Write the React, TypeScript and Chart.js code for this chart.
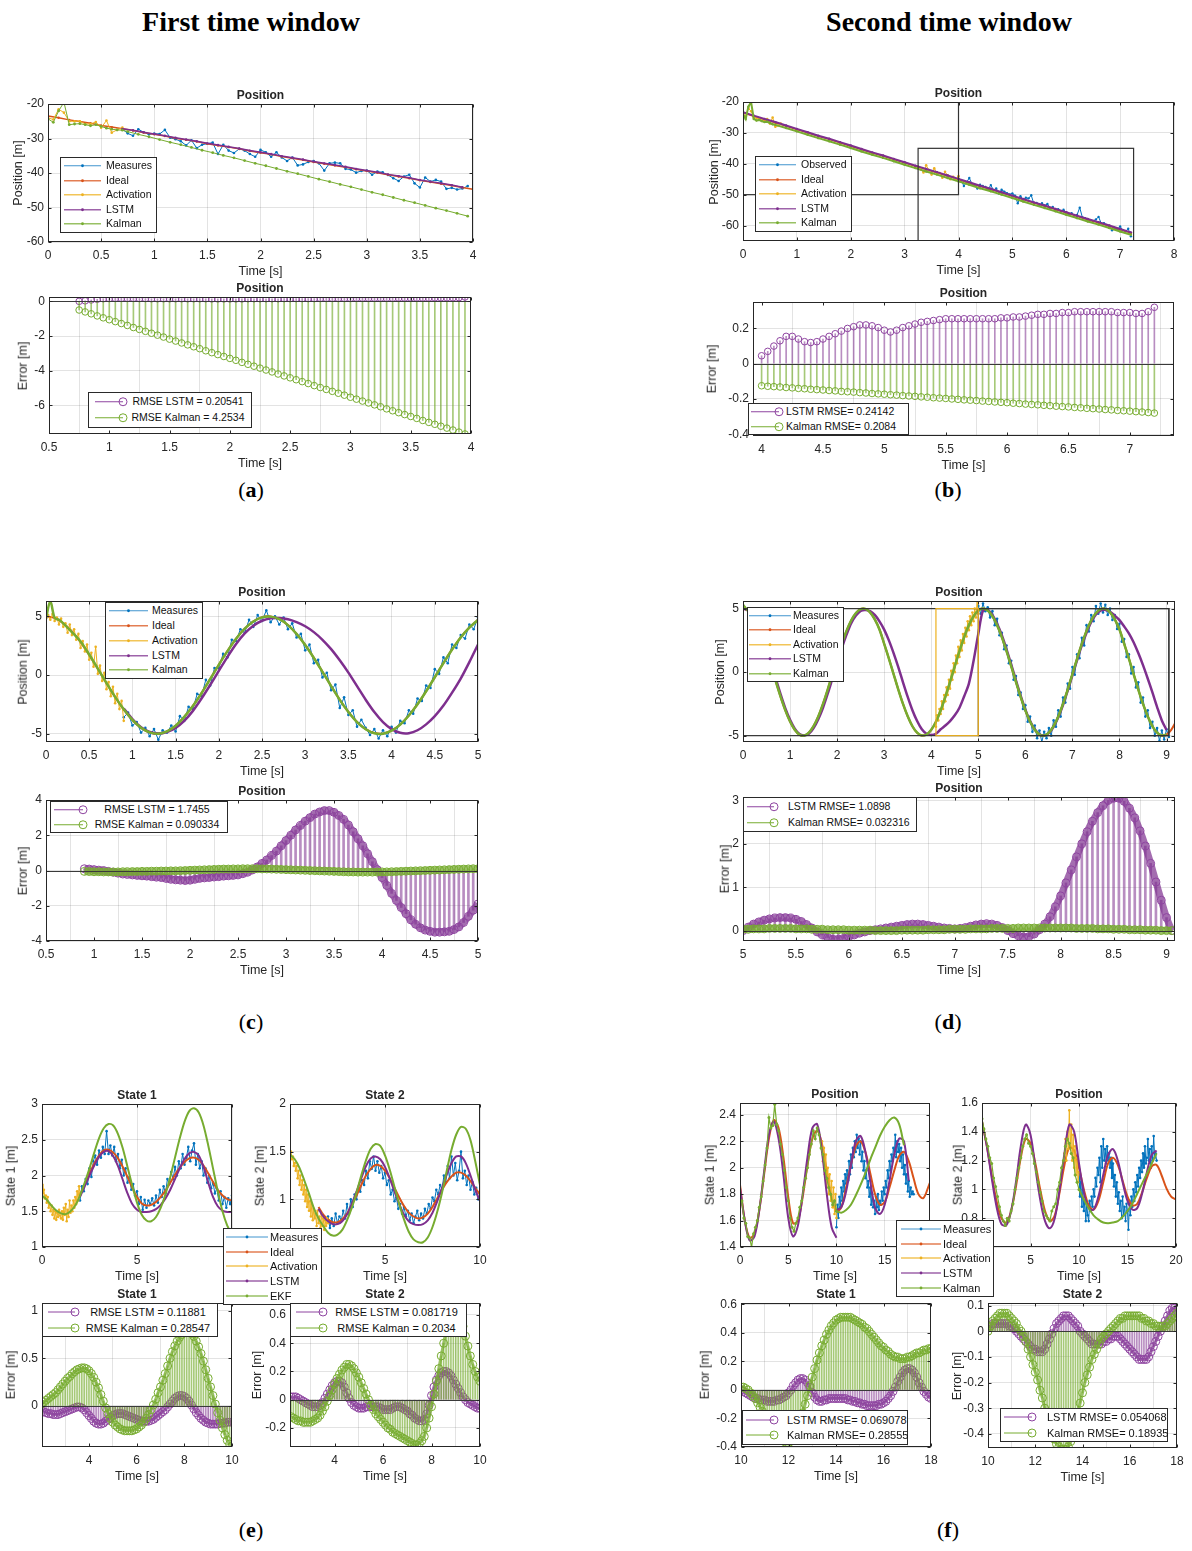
import React, { useEffect, useRef } from "react";
import { Chart, registerables } from "chart.js";
Chart.register(...registerables);

const FONT = '"Liberation Sans", Arial, Helvetica, sans-serif';
const SERIF = '"Liberation Serif", "Times New Roman", serif';
const BLUE = "#0072BD", RED = "#D95319", YEL = "#EDB120", PUR = "#7E2F8E", GRN = "#77AC30";
const PUR_M = "#8E44A0", PUR_S = "rgba(126,47,142,0.55)", GRN_S = "rgba(119,172,48,0.65)";
const PUR_B = "rgba(126,47,142,0.7)", GRN_B = "rgba(119,172,48,0.75)";
const GRID = "rgba(38,38,38,0.13)";

type Pt = { x: number; y: number };
const seq = (t0: number, dt: number, v: number[]): Pt[] =>
  v.map((y, i) => ({ x: Math.round((t0 + i * dt) * 1e4) / 1e4, y }));

// ---------------- (a) ----------------
const aT_meas = [-27.3, -28.5, -29.2, -27.3, -28.2, -28.8,
  -28.6, -28.7, -27.5, -29.8, -30.2, -30.8, -32.0, -30.5, -32.8, -31.8,
  -31.5, -31.2, -34.5, -31.8, -33.5, -34.2, -33.0, -33.5, -34.5, -35.3,
  -33.3, -34.0, -35.3, -34.0, -35.5, -36.5, -35.5, -37.8, -37.5, -36.8,
  -36.5, -37.2, -39.3, -37.2, -37.0, -37.2, -38.8, -39.0, -39.9, -39.4,
  -39.3, -40.5, -39.6, -39.8, -40.6, -41.5, -42.3, -41.0, -40.5, -43.0,
  -44.2, -41.3, -42.5, -42.0, -42.5, -44.6, -44.3, -44.8, -44.5, -43.8];
const aT_ideal = [-23.5, -24.0, -24.6, -25.1, -25.6, -26.2, -26.7, -27.2, -27.7, -28.3, -28.8, -29.3, -29.9, -30.4,
  -30.9, -31.5, -32.0, -32.5, -33.0, -33.6, -34.1, -34.6, -35.2, -35.7, -36.2, -36.8, -37.3, -37.8, -38.3, -38.9,
  -39.4, -39.9, -40.5, -41.0, -41.5, -42.1, -42.6, -43.1, -43.6, -44.2, -44.7];
const aT_act = [-24.0, -24.5, -21.5, -22.5, -25.0, -25.0, -25.0, -25.8, -25.8, -25.2, -26.9, -24.8, -28.3, -27.5, -26.8];
const aT_lstm = [-27.2, -27.6, -28.2, -28.7, -29.2, -29.8, -30.3, -30.8, -31.4, -31.9, -32.4, -32.9, -33.5, -34.0,
  -34.5, -35.1, -35.6, -36.1, -36.7, -37.2, -37.7, -38.2, -38.8, -39.3, -39.8, -40.4, -40.9, -41.4, -42.0, -42.5,
  -43.0, -43.5, -44.1];
const aT_kal1 = [-24.3, -25.3, -22.0, -19.5, -26.0, -25.8, -25.7, -26.0, -26.3, -26.0, -26.5, -27.0, -27.3, -27.5, -27.6];
const aT_kal2 = [-28.0, -28.8, -29.5, -30.3, -31.1, -31.8, -32.6, -33.4, -34.1, -34.9, -35.6, -36.4, -37.2, -37.9,
  -38.7, -39.5, -40.2, -41.0, -41.8, -42.5, -43.3, -44.0, -44.8, -45.6, -46.3, -47.1, -47.9, -48.6, -49.4, -50.2,
  -50.9, -51.7, -52.5];
const aB_lstm = [0.0, 0.03, 0.08, 0.12, 0.15, 0.16, 0.17, 0.17, 0.17, 0.17,
  0.16, 0.16, 0.15, 0.15, 0.15, 0.15, 0.15, 0.15, 0.15, 0.15,
  0.15, 0.15, 0.14, 0.14, 0.14, 0.14, 0.14, 0.14, 0.15, 0.15,
  0.15, 0.15, 0.15, 0.15, 0.16, 0.16, 0.16, 0.16, 0.16, 0.16,
  0.17, 0.17, 0.17, 0.17, 0.17, 0.17, 0.18, 0.18, 0.18, 0.18,
  0.18, 0.18, 0.18, 0.19, 0.19, 0.19, 0.19, 0.19, 0.19, 0.2,
  0.2, 0.2, 0.2, 0.21, 0.25];
const aB_kal = [-0.50, -0.61, -0.72, -0.84, -0.95, -1.06, -1.17, -1.28, -1.39, -1.51,
  -1.62, -1.73, -1.84, -1.95, -2.06, -2.18, -2.29, -2.40, -2.51, -2.62,
  -2.73, -2.85, -2.96, -3.07, -3.18, -3.29, -3.40, -3.52, -3.63, -3.74,
  -3.85, -3.96, -4.07, -4.19, -4.30, -4.41, -4.52, -4.63, -4.74, -4.86,
  -4.97, -5.08, -5.19, -5.30, -5.41, -5.53, -5.64, -5.75, -5.86, -5.97,
  -6.08, -6.20, -6.31, -6.42, -6.53, -6.64, -6.75, -6.87, -6.98, -7.09,
  -7.20, -7.31, -7.42, -7.54, -7.65];

// ---------------- (b) ----------------
const bT_obs = [-44.8, -45.3, -47.2, -46.0, -44.6, -46.5, -47.0, -48.0, -46.8, -47.2, -47.5, -48.2, -46.9, -48.6, -48.0, -49.6, -48.4, -49.0, -49.5, -49.9,
  -49.6, -50.3, -52.8, -50.5, -51.6, -51.0, -51.2, -50.2, -53.0, -52.7, -53.5, -52.8, -53.6, -53.0, -54.4, -54.0, -55.0, -54.7, -55.5, -54.9,
  -55.7, -56.3, -56.0, -56.8, -56.6, -54.2, -57.4, -57.6, -58.0, -58.3, -58.6, -58.0, -57.2, -59.3, -59.2, -59.8, -60.6, -61.5, -60.8, -61.2,
  -60.3, -61.5, -61.9, -61.0, -63.5];
const bT_ideal = [-23.5, -24.6, -25.7, -26.7, -27.8, -28.9, -30.0, -31.1, -32.1, -33.2, -34.3, -35.4, -36.5, -37.5,
  -38.6, -39.7, -40.8, -41.9, -42.9, -44.0, -45.1, -46.2, -47.3, -48.3, -49.4, -50.5, -51.6, -52.7, -53.7, -54.8,
  -55.9, -57.0, -58.1, -59.1, -60.2, -61.3, -62.4];
const bT_act1 = [-24.0, -24.6, -22.0, -23.0, -25.0, -25.2, -25.3, -26.0, -25.9, -25.5, -27.0, -25.0, -28.0, -27.6, -27.0];
const bT_act2 = [-41.0, -41.8, -42.8, -40.5, -42.0, -43.5, -41.5, -42.8, -43.0, -44.5, -42.6, -43.8, -45.0, -44.2, -45.2, -44.0];
const bT_lstm = [-23.3, -24.4, -25.5, -26.5, -27.6, -28.7, -29.8, -30.9, -31.9, -33.0, -34.1, -35.2, -36.3, -37.3,
  -38.4, -39.5, -40.6, -41.7, -42.7, -43.8, -44.9, -46.0, -47.1, -48.1, -49.2, -50.3, -51.4, -52.5, -53.5, -54.6,
  -55.7, -56.8, -57.9, -58.9, -60.0, -61.1, -62.2];
const bT_kal1 = [-24.0, -25.5, -21.5, -20.0, -25.5, -26.0, -25.8, -26.2, -26.5, -26.4, -26.8, -27.2, -27.4];
const bT_kal2 = [-28.4, -29.5, -30.6, -31.7, -32.7, -33.8, -34.9, -36.0, -37.1, -38.1, -39.2, -40.3, -41.4, -42.5,
  -43.5, -44.6, -45.7, -46.8, -47.9, -48.9, -50.0, -51.1, -52.2, -53.3, -54.3, -55.4, -56.5, -57.6, -58.7, -59.7,
  -60.8, -61.9, -63.0];
const bRects = [
  { x0: 0, x1: 4, y0: -50, y1: -20, c: "#333" },
  { x0: 3.25, x1: 7.25, y0: -65, y1: -35, c: "#333" },
];
const bB_lstm = [0.045, 0.07, 0.10, 0.13, 0.155, 0.155, 0.14, 0.125, 0.12, 0.125, 0.14, 0.155, 0.17, 0.185, 0.20, 0.21, 0.22, 0.22, 0.215, 0.205,
  0.19, 0.18, 0.19, 0.205, 0.215, 0.225, 0.235, 0.24, 0.245, 0.25, 0.255, 0.255, 0.255, 0.255, 0.255, 0.255, 0.255, 0.255, 0.255, 0.26,
  0.26, 0.265, 0.265, 0.27, 0.275, 0.28, 0.28, 0.285, 0.285, 0.29, 0.29, 0.295, 0.295, 0.295, 0.295, 0.295, 0.295, 0.295, 0.29, 0.29,
  0.29, 0.285, 0.285, 0.295, 0.32];
const bB_kal = [-0.125, -0.128, -0.130, -0.132, -0.135, -0.137, -0.140, -0.142, -0.145, -0.147,
  -0.149, -0.152, -0.154, -0.157, -0.159, -0.161, -0.164, -0.166, -0.169, -0.171,
  -0.173, -0.176, -0.178, -0.181, -0.183, -0.185, -0.188, -0.190, -0.193, -0.195,
  -0.197, -0.200, -0.202, -0.205, -0.207, -0.209, -0.212, -0.214, -0.217, -0.219,
  -0.221, -0.224, -0.226, -0.229, -0.231, -0.233, -0.236, -0.238, -0.241, -0.243,
  -0.245, -0.248, -0.250, -0.253, -0.255, -0.257, -0.260, -0.262, -0.265, -0.267,
  -0.269, -0.272, -0.274, -0.277, -0.280];

// ---------------- (c) ----------------
const cT_meas = [-3.6, -3.2, -4.3, -4.0, -4.9, -4.5, -5.2, -4.6, -5.5, -4.7,
  -4.9, -4.3, -4.8, -3.5, -3.9, -2.7, -2.9, -1.6, -1.8, -0.4,
  -0.9, 0.6, 0.6, 1.8, 1.5, 3.0, 2.9, 3.9, 3.6, 4.7,
  4.1, 5.1, 4.6, 5.5, 4.5, 5.0, 4.3, 4.9, 3.9, 4.4,
  3.2, 3.5, 2.1, 2.6, 1.0, 1.3, -0.2, 0.2, -1.3, -0.8,
  -2.8, -1.9, -3.4, -3.0, -4.4, -3.8, -4.5, -5.1, -4.6, -5.4,
  -4.7, -5.2, -4.4, -4.9, -3.9, -4.1, -3.0, -3.3, -2.0, -2.2,
  -0.9, -1.1, 0.5, 0.1, 1.5, 1.0, 2.6, 2.3, 3.4, 3.1,
  4.3, 3.9, 4.9];
const cT_ideal = [5.00, 4.85, 4.41, 3.71, 2.80, 1.70, 0.52, -0.70, -1.88, -2.94, -3.83, -4.50, -4.89, -5.00, -4.80, -4.32,
  -3.56, -2.63, -1.54, -0.34, 0.88, 2.04, 3.10, 3.95, 4.57, 4.92, 4.98, 4.76, 4.26, 3.51, 2.56, 1.46, 0.28, -0.93,
  -2.10, -3.14, -4.00, -4.60, -4.94, -4.99, -4.74, -4.22, -3.44, -2.48, -1.38, -0.18, 1.02, 2.18, 3.21, 4.04, 4.71];
const cT_act = [4.8, 5.1, 4.7, 5.2, 4.6, 4.9, 4.3, 4.8, 4.1, 4.4, 3.6, 4.3, 3.4, 3.9, 3.0, 3.5, 2.3, 2.9, 2.0, 2.6,
  1.3, 1.9, 0.7, 2.4, 0.1, 0.8, -0.5, 0.2, -1.2, -0.6, -1.8, -1.0, -2.4, -1.6, -2.9, -2.2, -3.9];
const cT_lstm = [-2.85, -3.75, -4.45, -4.85, -4.98, -4.85, -4.5, -3.9, -3.05, -2.0, -0.85, 0.35, 1.55, 2.65, 3.55, 4.2,
  4.62, 4.82, 4.85, 4.75, 4.5, 4.15, 3.65, 3.0, 2.2, 1.25, 0.2, -0.95, -2.1, -3.15, -4.0, -4.6, -4.92, -4.95, -4.7,
  -4.2, -3.5, -2.6, -1.5, -0.3, 1.1, 2.6];
const cT_kal1 = [4.8, 6.3, 4.85, 4.7];
const cT_kal2 = [4.4, 3.65, 2.85, 1.75, 0.55, -0.68, -1.86, -2.92, -3.82, -4.49, -4.88, -4.99, -4.80, -4.32, -3.56,
  -2.64, -1.55, -0.35, 0.87, 2.03, 3.09, 3.94, 4.56, 4.91, 4.97, 4.75, 4.25, 3.50, 2.55, 1.45, 0.27, -0.94, -2.11,
  -3.15, -4.01, -4.61, -4.95, -4.99, -4.74, -4.22, -3.44, -2.48, -1.38, -0.19, 1.01, 2.17, 3.20, 4.03, 4.70];
const cB_lstm = [0.1, 0.08, 0.05, 0.02, 0.0, -0.05, -0.1, -0.15, -0.2, -0.22,
  -0.25, -0.28, -0.3, -0.32, -0.35, -0.38, -0.4, -0.45, -0.5, -0.53,
  -0.55, -0.57, -0.55, -0.5, -0.45, -0.42, -0.4, -0.37, -0.35, -0.32,
  -0.3, -0.28, -0.25, -0.18, -0.1, 0.03, 0.2, 0.4, 0.6, 0.85,
  1.1, 1.4, 1.7, 2.0, 2.3, 2.55, 2.8, 3.0, 3.2, 3.32,
  3.4, 3.4, 3.3, 3.12, 2.9, 2.58, 2.2, 1.8, 1.4, 0.95,
  0.5, 0.05, -0.4, -0.85, -1.3, -1.7, -2.1, -2.45, -2.8, -3.05,
  -3.25, -3.38, -3.45, -3.5, -3.5, -3.48, -3.45, -3.35, -3.2, -2.95,
  -2.6, -2.25, -1.9];
const cB_kal = [-0.05, -0.06, -0.07, -0.07, -0.08, -0.08, -0.08, -0.08, -0.07, -0.07,
  -0.06, -0.06, -0.05, -0.05, -0.04, -0.04, -0.03, -0.03, -0.02, -0.02,
  -0.01, 0.0, 0.01, 0.02, 0.03, 0.04, 0.05, 0.06, 0.07, 0.08,
  0.08, 0.09, 0.09, 0.1, 0.1, 0.1, 0.1, 0.09, 0.09, 0.08,
  0.07, 0.06, 0.05, 0.04, 0.03, 0.02, 0.01, 0.0, -0.01, -0.02,
  -0.03, -0.04, -0.05, -0.06, -0.07, -0.08, -0.08, -0.09, -0.09, -0.09,
  -0.09, -0.09, -0.08, -0.08, -0.07, -0.06, -0.05, -0.04, -0.03, -0.02,
  -0.01, 0.0, 0.01, 0.02, 0.03, 0.04, 0.05, 0.06, 0.07, 0.08,
  0.09, 0.1, 0.1];

// ---------------- (d) ----------------
const dT_meas = [5.2, 4.6, 5.4, 4.8, 5.1, 4.3, 4.8, 3.7, 4.2, 2.9,
  3.1, 1.8, 2.1, 0.7, 0.9, -0.6, -0.3, -1.8, -1.6, -2.9,
  -2.6, -3.9, -3.5, -4.7, -4.2, -5.2, -4.6, -5.5, -4.7, -5.2,
  -4.4, -5.0, -3.8, -4.3, -3.0, -3.5, -2.0, -2.4, -0.9, -1.3,
  0.4, -0.2, 1.4, 1.1, 2.7, 2.1, 3.7, 3.2, 4.5, 4.0,
  5.2, 4.6, 5.4, 4.7, 5.3, 4.5, 5.0, 4.1, 4.5, 3.4,
  3.8, 2.4, 2.6, 1.2, 1.4, -0.1, 0.4, -1.2, -0.8, -2.4,
  -2.0, -3.5, -3.0, -4.4, -3.9, -5.0, -4.4, -5.4, -4.6, -5.3,
  -4.5, -5.1];
const dT_ideal = [5.00, 4.85, 4.41, 3.69, 2.76, 1.66, 0.46, -0.77, -1.95, -3.01,
  -3.89, -4.54, -4.92, -4.99, -4.76, -4.25, -3.49, -2.50, -1.37, -0.15,
  1.07, 2.22, 3.25, 4.07, 4.65, 4.96, 4.98, 4.71, 4.16, 3.36,
  2.23, 1.07, -0.15, -1.37, -2.50, -3.48, -4.26, -4.77, -4.99, -4.91,
  -4.54, -3.90, -3.02, -1.94, -0.77, 0.46, 1.66, 2.76, 3.70, 4.40,
  4.85, 5.00, 4.85, 4.41, 3.69, 2.76, 1.66, 0.46, -0.77, -1.95,
  -3.01, -3.89, -4.54, -4.92, -4.99, -4.76, -4.25, -3.49, -2.50, -1.37,
  -0.15, 1.07, 2.22, 3.25, 4.07, 4.65, 4.96, 4.98, 4.71, 4.16,
  3.36, 2.23, 1.07, -0.15, -1.37, -2.50, -3.48, -4.26, -4.77, -4.99,
  -4.91, -4.54, -3.90];
const dT_kal = [5.3, 4.85, 4.41, 3.69, 2.76, 1.66, 0.46, -0.77, -1.95, -3.01,
  -3.89, -4.54, -4.92, -4.99, -4.76, -4.25, -3.49, -2.50, -1.37, -0.15,
  1.07, 2.22, 3.25, 4.07, 4.65, 4.96, 4.98, 4.71, 4.16, 3.36,
  2.23, 1.07, -0.15, -1.37, -2.50, -3.48, -4.26, -4.77, -4.99, -4.91,
  -4.54, -3.90, -3.02, -1.94, -0.77, 0.46, 1.66, 2.76, 3.70, 4.40,
  4.85, 5.00, 4.85, 4.41, 3.69, 2.76, 1.66, 0.46, -0.77, -1.95,
  -3.01, -3.89, -4.54, -4.92, -4.99, -4.76, -4.25, -3.49, -2.50, -1.37,
  -0.15, 1.07, 2.22, 3.25, 4.07, 4.65, 4.96, 4.98, 4.71, 4.16,
  3.36, 2.23, 1.07, -0.15, -1.37, -2.50, -3.48, -4.26, -4.77, -4.99,
  -4.91];
const dT_act = [-4.3, -3.4, -3.8, -2.9, -3.3, -2.3, -2.9, -1.8, -2.3, -1.2, -1.8, -0.6, -1.3, 0.1, -0.6, 0.7, 0.0, 1.3,
  0.7, 2.0, 1.2, 2.5, 1.7, 3.0, 2.3, 3.5, 2.8, 4.0, 3.3, 4.4, 3.7, 4.7, 4.0, 5.0, 4.3, 5.6, 4.6];
const dT_lstm = [5.0, 4.88, 4.5, 3.85, 2.95, 1.9, 0.7, -0.55, -1.75, -2.85,
  -3.75, -4.45, -4.88, -4.98, -4.85, -4.4, -3.7, -2.8, -1.7, -0.5,
  0.7, 1.9, 2.95, 3.85, 4.45, 4.82, 4.9, 4.8, 4.5, 4.0,
  3.35, 2.5, 1.5, 0.4, -0.8, -1.95, -3.0, -3.85, -4.5, -4.85,
  -4.95, -4.85, -4.5, -4.2, -3.85, -3.4, -2.8, -1.9, -0.9, 0.9,
  3.0, 4.85, 4.9, 4.5, 3.8, 2.9, 1.8, 0.6, -0.65, -1.85,
  -2.95, -3.85, -4.5, -4.9, -4.99, -4.8, -4.3, -3.55, -2.6, -1.45,
  -0.25, 0.95, 2.1, 3.1, 3.95, 4.55, 4.85, 4.9, 4.75, 4.45,
  4.1, 3.6, 3.05, 2.35, 1.5, 0.55, -0.5, -1.6, -2.75, -3.8,
  -4.55];
const dRects = [
  { x0: 0, x1: 9.05, y0: -5, y1: 5, c: "#333" },
  { x0: 5, x1: 9.05, y0: -5, y1: 5, c: "#333" },
  { x0: 4.1, x1: 5, y0: -5, y1: 5, c: YEL },
];
const dB_lstm = [0.0, 0.08, 0.15, 0.2, 0.24, 0.27, 0.29, 0.3, 0.3, 0.29,
  0.26, 0.21, 0.14, 0.06, -0.03, -0.1, -0.16, -0.2, -0.2, -0.18,
  -0.14, -0.1, -0.06, -0.03, 0.0, 0.02, 0.04, 0.06, 0.08, 0.1,
  0.12, 0.14, 0.15, 0.15, 0.14, 0.12, 0.1, 0.08, 0.06, 0.05,
  0.04, 0.05, 0.07, 0.1, 0.13, 0.15, 0.16, 0.15, 0.12, 0.07,
  0.0, -0.07, -0.12, -0.15, -0.14, -0.08, 0.02, 0.15, 0.32, 0.55,
  0.8, 1.1, 1.4, 1.7, 2.0, 2.28, 2.52, 2.72, 2.88, 3.0,
  3.05, 3.05, 2.98, 2.82, 2.6, 2.3, 1.95, 1.55, 1.12, 0.7,
  0.3, 0.0];
const dB_kal = [0.03, 0.03, 0.04, 0.04, 0.04, 0.05, 0.05, 0.05, 0.05, 0.05,
  0.04, 0.04, 0.04, 0.03, 0.03, 0.03, 0.02, 0.02, 0.02, 0.02,
  0.01, 0.01, 0.01, 0.01, 0.01, 0.0, 0.0, 0.0, 0.0, 0.0,
  0.01, 0.01, 0.01, 0.01, 0.01, 0.02, 0.02, 0.02, 0.02, 0.03,
  0.03, 0.03, 0.03, 0.04, 0.04, 0.04, 0.04, 0.05, 0.05, 0.05,
  0.05, 0.05, 0.06, 0.06, 0.06, 0.06, 0.06, 0.06, 0.06, 0.06,
  0.06, 0.06, 0.06, 0.05, 0.05, 0.05, 0.05, 0.04, 0.04, 0.04,
  0.03, 0.03, 0.03, 0.02, 0.02, 0.02, 0.01, 0.01, 0.01, 0.0,
  0.0, 0.0];

// ---------------- (e) ----------------
const e1_meas = [1.65, 1.85, 1.78, 1.95, 1.88, 2.1, 1.98, 2.2, 2.28, 2.15,
  2.35, 2.25, 2.4, 2.3, 2.62, 2.3, 2.42, 2.28, 2.4, 2.2,
  2.3, 2.1, 2.22, 2.0, 2.1, 1.9, 1.98, 1.8, 1.88, 1.72,
  1.78, 1.6, 1.7, 1.52, 1.66, 1.55, 1.65, 1.6, 1.68, 1.58,
  1.72, 1.62, 1.8, 1.7, 1.85, 1.75, 1.95, 1.88, 2.05, 1.95,
  2.12, 2.0, 2.2, 2.1, 2.3, 2.15, 2.25, 2.4, 2.2, 2.35,
  2.45, 2.15, 2.3, 2.1, 2.2, 2.0, 2.1, 1.9, 2.0, 1.82,
  1.9, 1.75, 1.82, 1.65, 1.78, 1.6, 1.7, 1.55, 1.68, 1.6,
  1.72];
const e1_ideal = [1.72, 1.88, 2.03, 2.17, 2.28, 2.35, 2.36, 2.32, 2.24, 2.12, 1.98, 1.83, 1.70, 1.61, 1.58, 1.59, 1.63,
  1.70, 1.79, 1.90, 2.01, 2.11, 2.19, 2.24, 2.25, 2.22, 2.14, 2.03, 1.91, 1.8, 1.72, 1.67, 1.65];
const e1_act = [1.88, 1.75, 1.8, 1.68, 1.72, 1.62, 1.7, 1.55, 1.6, 1.5, 1.58, 1.45, 1.52, 1.4, 1.5, 1.38, 1.48, 1.42,
  1.52, 1.44, 1.4, 1.5, 1.38, 1.55, 1.45, 1.6, 1.36, 1.52, 1.42, 1.65, 1.48, 1.58, 1.5, 1.65, 1.55, 1.7, 1.6, 1.78,
  1.65, 1.85, 1.75];
const e1_lstm = [1.70, 1.85, 2.0, 2.14, 2.26, 2.33, 2.34, 2.27, 2.13, 1.94, 1.75, 1.6, 1.52, 1.49, 1.49, 1.5, 1.53,
  1.59, 1.68, 1.8, 1.95, 2.1, 2.23, 2.31, 2.33, 2.28, 2.12, 1.9, 1.7, 1.57, 1.51, 1.49, 1.49];
const e1_ekf = [1.72, 1.66, 1.58, 1.51, 1.47, 1.46, 1.5, 1.58, 1.72, 1.9, 2.1, 2.32, 2.52, 2.66, 2.72, 2.7, 2.58, 2.38,
  2.12, 1.86, 1.62, 1.45, 1.37, 1.36, 1.42, 1.55, 1.74, 1.98, 2.25, 2.52, 2.75, 2.9, 2.94, 2.88, 2.7, 2.42, 2.1,
  1.78, 1.5, 1.3, 1.18];
const e2_meas = [0.82, 0.7, 0.8, 0.72, 0.85, 0.75, 0.82, 0.78, 0.88, 0.8,
  0.95, 0.85, 1.0, 0.92, 1.05, 1.0, 1.12, 1.08, 1.2, 1.15,
  1.3, 1.22, 1.4, 1.32, 1.45, 1.3, 1.4, 1.28, 1.35, 1.22,
  1.28, 1.15, 1.2, 1.05, 1.1, 0.98, 1.02, 0.9, 0.95, 0.85,
  0.92, 0.82, 0.88, 0.78, 0.85, 0.75, 0.82, 0.88, 0.78, 0.85,
  0.8, 0.9, 0.85, 0.95, 0.9, 1.02, 0.98, 1.1, 1.05, 1.15,
  1.1, 1.25, 1.18, 1.35, 1.22, 1.45, 1.25, 1.38, 1.2, 1.3,
  1.5, 1.22, 1.3, 1.15, 1.25, 1.1, 1.18, 1.05, 1.12, 1.0,
  1.08];
const e2_ideal = [0.92, 0.84, 0.79, 0.76, 0.76, 0.79, 0.85, 0.94, 1.04, 1.15, 1.25, 1.32, 1.36, 1.35, 1.3, 1.22, 1.12,
  1.02, 0.93, 0.86, 0.82, 0.8, 0.81, 0.85, 0.92, 1.01, 1.1, 1.18, 1.24, 1.28, 1.28, 1.25, 1.19, 1.12, 1.05];
const e2_act = [1.47, 1.5, 1.42, 1.45, 1.35, 1.38, 1.3, 1.35, 1.22, 1.3, 1.15, 1.25, 1.1, 1.2, 1.05, 1.15, 0.98, 1.1,
  0.92, 1.05, 0.88, 0.98, 0.82, 0.95, 0.78, 0.9, 0.8, 0.85, 0.72, 0.88, 0.75, 0.82, 0.7, 0.85, 0.72, 0.8, 0.68,
  0.78, 0.72, 0.8, 0.75];
const e2_lstm = [0.9, 0.82, 0.77, 0.74, 0.74, 0.77, 0.84, 0.95, 1.08, 1.22, 1.35, 1.43, 1.45, 1.42, 1.34, 1.22, 1.08,
  0.95, 0.84, 0.77, 0.74, 0.73, 0.74, 0.78, 0.86, 0.98, 1.12, 1.26, 1.38, 1.45, 1.45, 1.38, 1.25, 1.1, 0.98];
const e2_ekf = [1.47, 1.42, 1.33, 1.2, 1.06, 0.91, 0.8, 0.72, 0.65, 0.62, 0.63, 0.68, 0.78, 0.91, 1.07, 1.25, 1.41,
  1.53, 1.58, 1.56, 1.46, 1.31, 1.13, 0.95, 0.79, 0.66, 0.58, 0.55, 0.55, 0.6, 0.71, 0.87, 1.07, 1.3, 1.52, 1.68,
  1.76, 1.74, 1.62, 1.4, 1.15];
const eE1_lstm = [-0.05, -0.06, -0.07, -0.08, -0.08, -0.09, -0.09, -0.09, -0.08, -0.07,
  -0.06, -0.05, -0.04, -0.03, -0.02, -0.01, -0.01, -0.02, -0.04, -0.07,
  -0.1, -0.13, -0.16, -0.18, -0.19, -0.19, -0.18, -0.16, -0.14, -0.12,
  -0.1, -0.09, -0.08, -0.08, -0.08, -0.09, -0.1, -0.11, -0.12, -0.13,
  -0.14, -0.15, -0.16, -0.16, -0.16, -0.16, -0.15, -0.14, -0.12, -0.1,
  -0.08, -0.06, -0.04, -0.01, 0.02, 0.05, 0.08, 0.1, 0.11, 0.11,
  0.1, 0.08, 0.05, 0.01, -0.03, -0.07, -0.1, -0.13, -0.15, -0.17,
  -0.18, -0.19, -0.19, -0.19, -0.19, -0.18, -0.18, -0.18, -0.17, -0.17,
  -0.17];
const eE1_kal = [0.02, 0.04, 0.06, 0.08, 0.1, 0.12, 0.14, 0.17, 0.2, 0.23,
  0.26, 0.29, 0.31, 0.34, 0.36, 0.38, 0.39, 0.4, 0.4, 0.39,
  0.37, 0.34, 0.3, 0.25, 0.19, 0.12, 0.05, -0.02, -0.08, -0.13,
  -0.17, -0.2, -0.22, -0.24, -0.25, -0.26, -0.26, -0.26, -0.26, -0.25,
  -0.24, -0.22, -0.2, -0.17, -0.13, -0.09, -0.04, 0.01, 0.07, 0.14,
  0.2, 0.27, 0.34, 0.42, 0.5, 0.57, 0.63, 0.68, 0.72, 0.75,
  0.77, 0.78, 0.78, 0.76, 0.73, 0.68, 0.62, 0.55, 0.47, 0.38,
  0.29, 0.2, 0.11, 0.02, -0.07, -0.15, -0.23, -0.3, -0.36, -0.4,
  -0.42];
const eE2_lstm = [0.02, 0.02, 0.02, 0.01, 0.0, -0.01, -0.02, -0.03, -0.04, -0.05,
  -0.05, -0.05, -0.04, -0.02, 0.01, 0.04, 0.07, 0.1, 0.12, 0.13,
  0.13, 0.12, 0.09, 0.05, 0.01, -0.02, -0.04, -0.05, -0.06, -0.06,
  -0.06, -0.05, -0.05, -0.05, -0.05, -0.05, -0.05, -0.06, -0.07, -0.07,
  -0.07, -0.07, -0.06, -0.05, -0.05, -0.05, -0.06, -0.07, -0.08, -0.1,
  -0.11, -0.13, -0.14, -0.15, -0.15, -0.14, -0.1, -0.04, 0.03, 0.09,
  0.14, 0.17, 0.19, 0.2, 0.2, 0.19, 0.17, 0.14, 0.11, 0.08,
  0.05, 0.02, 0.0, -0.02, -0.03, -0.04, -0.05, -0.06, -0.06];
const eE2_kal = [-0.12, -0.13, -0.14, -0.15, -0.15, -0.16, -0.16, -0.16, -0.16, -0.15,
  -0.14, -0.13, -0.11, -0.08, -0.05, -0.01, 0.03, 0.07, 0.11, 0.15,
  0.18, 0.21, 0.23, 0.25, 0.25, 0.24, 0.22, 0.19, 0.16, 0.12,
  0.08, 0.04, 0.0, -0.04, -0.07, -0.1, -0.12, -0.14, -0.16, -0.18,
  -0.2, -0.21, -0.23, -0.24, -0.25, -0.26, -0.27, -0.28, -0.29, -0.3,
  -0.31, -0.32, -0.32, -0.31, -0.29, -0.26, -0.2, -0.13, -0.05, 0.04,
  0.13, 0.22, 0.31, 0.4, 0.48, 0.55, 0.6, 0.63, 0.64, 0.62,
  0.58, 0.52, 0.45, 0.38, 0.31, 0.25, 0.2, 0.16, 0.13];

// ---------------- (f) ----------------
const f1_meas = [1.55, 1.72, 1.62, 1.78, 1.7, 1.85, 1.75, 1.9, 1.82, 1.95,
  1.88, 1.98, 1.9, 2.05, 1.95, 2.1, 2.0, 2.15, 2.08, 2.2,
  2.12, 2.25, 2.15, 2.22, 2.1, 2.2, 2.05, 2.12, 1.98, 2.05,
  1.92, 1.98, 1.85, 1.9, 1.78, 1.85, 1.72, 1.8, 1.7, 1.75,
  1.65, 1.78, 1.7, 1.8, 1.68, 1.75, 1.72, 1.82, 1.75, 1.85,
  1.8, 1.9, 1.85, 1.98, 1.92, 2.05, 1.98, 2.1, 2.05, 2.15,
  2.1, 2.25, 2.08, 2.2, 2.12, 2.18, 2.05, 2.15, 2.0, 2.1,
  1.95, 2.02, 1.88, 1.95, 1.82, 1.9, 1.78, 1.85, 1.8, 1.82,
  1.8];
const f1_ideal = [1.87, 1.6, 1.47, 1.5, 1.68, 1.95, 2.22, 2.36, 2.3, 2.08, 1.78, 1.58, 1.6, 1.78, 2.02, 2.22, 2.28, 2.18,
  1.97, 1.77, 1.67, 1.7, 1.85, 2.02, 2.16, 2.2, 2.12, 1.96, 1.8, 1.72, 1.74, 1.85, 1.98, 2.09, 2.12, 2.05, 1.92, 1.8,
  1.77, 1.85, 1.95];
const f1_act = [2.2, 2.05, 2.15, 1.95, 2.1, 1.85, 2.0, 1.8, 1.95, 1.75, 1.9, 1.7, 1.85, 1.65, 1.8, 1.62];
const f1_lstm1 = [1.85, 1.6, 1.45, 1.48, 1.68, 1.97, 2.25, 2.35, 2.22, 1.95, 1.62, 1.48, 1.56, 1.8, 2.08, 2.3, 2.33, 2.12,
  1.8, 1.55, 1.47];
const f1_lstm2 = [1.68, 1.7, 1.82, 2.02, 2.2, 2.24, 2.12, 1.9, 1.7, 1.65, 1.72, 1.9, 2.1, 2.22, 2.2, 1.9];
const f1_kal1 = [1.72, 1.75, 1.62, 1.58, 1.48, 1.47, 1.4, 1.5, 1.55, 1.6,
  1.7, 1.78, 1.9, 2.02, 2.15, 2.38, 2.3, 2.32, 2.48, 2.33,
  2.28, 2.18, 2.1, 1.98, 1.85, 1.75, 1.62, 1.55, 1.52, 1.58,
  1.62, 1.7, 1.75, 1.85, 1.92, 2.0, 2.1, 2.18, 2.28, 2.22,
  2.3, 2.25, 2.15, 2.1, 1.98, 1.92, 1.85, 1.8, 1.72, 1.75,
  1.67];
const f1_kal2 = [1.67, 1.66, 1.68, 1.72, 1.79, 1.87, 1.96, 2.06, 2.15, 2.24, 2.31, 2.36, 2.38, 2.33, 2.17];
const f2_meas = [1.12, 0.95, 1.05, 0.88, 1.0, 0.85, 0.92, 0.78, 0.9, 0.82,
  0.78, 0.92, 0.85, 0.95, 0.88, 1.0, 0.95, 1.08, 1.02, 1.15,
  1.1, 1.22, 1.05, 1.3, 1.15, 1.35, 1.2, 1.28, 1.18, 1.3,
  1.2, 1.25, 1.15, 1.22, 1.08, 1.18, 1.02, 1.1, 0.95, 1.05,
  0.9, 0.98, 0.85, 0.92, 0.8, 0.95, 0.82, 0.88, 0.78, 0.9,
  0.85, 0.72, 0.92, 0.82, 0.95, 0.88, 1.0, 0.92, 1.05, 0.98,
  1.1, 1.02, 1.15, 1.08, 1.2, 1.12, 1.25, 1.15, 1.3, 1.18,
  1.22, 1.35, 1.2, 1.28, 1.15, 1.3, 1.2, 1.37, 1.22, 1.25,
  1.2];
const f2_ideal = [1.47, 1.3, 1.1, 0.92, 0.8, 0.77, 0.85, 1.02, 1.22, 1.35, 1.32, 1.18, 1.0, 0.85, 0.78, 0.82, 0.98, 1.17,
  1.29, 1.27, 1.15, 1.0, 0.89, 0.86, 0.92, 1.05, 1.18, 1.22, 1.17, 1.06, 0.95, 0.89, 0.9, 0.98, 1.08, 1.16, 1.17, 1.1,
  1.01, 0.95, 0.93];
const f2_act = [1.25, 1.35, 1.2, 1.4, 1.28, 1.55, 1.3, 1.45, 1.2, 1.38, 1.15, 1.3, 1.1, 1.22, 1.05, 1.12];
const f2_lstm = [1.47, 1.3, 1.08, 0.88, 0.76, 0.75, 0.85, 1.05, 1.3, 1.45, 1.38, 1.15, 0.93, 0.78, 0.73, 0.8, 1.0, 1.25,
  1.45, 1.4, 1.18, 0.98, 0.87, 0.86, 0.95, 1.1, 1.24, 1.28, 1.2, 1.05, 0.92, 0.86, 0.87, 0.97, 1.12, 1.24, 1.27];
const f2_kal1 = [1.49, 1.42, 1.35, 1.3, 1.22, 1.18, 1.08, 1.02, 0.95, 0.88,
  0.82, 0.78, 0.75, 0.8, 0.78, 0.85, 0.9, 1.0, 1.08, 1.15,
  1.22, 1.3, 1.35, 1.38, 1.32, 1.3, 1.25, 1.18, 1.12, 1.05,
  0.98, 0.92, 0.85, 0.82, 0.8, 0.78, 0.85, 0.88, 0.9, 1.0,
  1.05, 1.15, 1.2, 1.3, 1.35, 1.32, 1.25, 1.22, 1.1, 1.05,
  1.0];
const f2_kal2 = [1.0, 0.93, 0.87, 0.82, 0.79, 0.77, 0.765, 0.77, 0.78, 0.81, 0.85, 0.9, 0.97, 1.04, 1.11, 1.18, 1.25];
const fE1_lstm = [0.0, -0.01, -0.02, -0.03, -0.04, -0.05, -0.06, -0.06, -0.07, -0.07,
  -0.07, -0.08, -0.08, -0.08, -0.08, -0.07, -0.07, -0.06, -0.05, -0.04,
  -0.02, 0.0, 0.03, 0.05, 0.07, 0.08, 0.08, 0.07, 0.05, 0.02,
  -0.02, -0.05, -0.07, -0.08, -0.08, -0.07, -0.07, -0.06, -0.06, -0.06,
  -0.06, -0.06, -0.06, -0.06, -0.06, -0.07, -0.07, -0.08, -0.08, -0.09,
  -0.09, -0.1, -0.1, -0.11, -0.11, -0.11, -0.11, -0.11, -0.1, -0.1,
  -0.09, -0.08, -0.06, -0.04, -0.01, 0.02, 0.06, 0.09, 0.12, 0.14,
  0.15, 0.15, 0.14, 0.12, 0.09, 0.05, 0.02, -0.01, -0.03, -0.05,
  -0.06];
const fE1_kal = [0.02, 0.02, 0.01, 0.0, -0.02, -0.04, -0.06, -0.09, -0.12, -0.15,
  -0.18, -0.21, -0.24, -0.27, -0.29, -0.31, -0.33, -0.35, -0.36, -0.37,
  -0.37, -0.36, -0.34, -0.31, -0.27, -0.22, -0.16, -0.1, -0.04, 0.03,
  0.09, 0.15, 0.21, 0.26, 0.31, 0.35, 0.39, 0.42, 0.45, 0.47,
  0.49, 0.5, 0.51, 0.51, 0.51, 0.51, 0.51, 0.5, 0.49, 0.48,
  0.47, 0.46, 0.44, 0.43, 0.41, 0.39, 0.37, 0.35, 0.33, 0.31,
  0.3, 0.28, 0.27, 0.25, 0.24, 0.23, 0.23, 0.22, 0.22, 0.22,
  0.23, 0.23, 0.24, 0.25, 0.26, 0.26, 0.27, 0.28, 0.28, 0.29,
  0.29];
const fE2_lstm = [0.02, 0.02, 0.03, 0.03, 0.03, 0.03, 0.03, 0.03, 0.03, 0.02,
  0.02, 0.01, 0.0, -0.01, -0.02, -0.03, -0.04, -0.05, -0.06, -0.07,
  -0.07, -0.08, -0.08, -0.08, -0.07, -0.05, -0.03, -0.01, 0.01, 0.03,
  0.04, 0.05, 0.06, 0.06, 0.06, 0.05, 0.04, 0.03, 0.02, 0.0,
  -0.01, -0.02, -0.03, -0.04, -0.05, -0.05, -0.05, -0.05, -0.05, -0.04,
  -0.04, -0.03, -0.03, -0.02, -0.02, -0.02, -0.03, -0.04, -0.05, -0.06,
  -0.07, -0.08, -0.09, -0.1, -0.11, -0.11, -0.11, -0.11, -0.1, -0.08,
  -0.06, -0.04, -0.02, 0.0, 0.02, 0.04, 0.06, 0.08, 0.09, 0.09,
  0.08];
const fE2_kal = [0.0, 0.02, 0.04, 0.05, 0.06, 0.07, 0.07, 0.07, 0.07, 0.06,
  0.05, 0.04, 0.03, 0.01, 0.0, -0.02, -0.04, -0.07, -0.1, -0.13,
  -0.16, -0.19, -0.23, -0.26, -0.3, -0.33, -0.36, -0.39, -0.42, -0.44,
  -0.45, -0.46, -0.46, -0.46, -0.45, -0.43, -0.4, -0.36, -0.32, -0.28,
  -0.24, -0.2, -0.17, -0.14, -0.11, -0.09, -0.07, -0.05, -0.03, -0.02,
  -0.01, 0.0, 0.01, 0.02, 0.03, 0.04, 0.05, 0.05, 0.06, 0.06,
  0.06, 0.06, 0.06, 0.06, 0.06, 0.05, 0.05, 0.04, 0.04, 0.03,
  0.03, 0.02, 0.02, 0.02, 0.02, 0.02, 0.03, 0.04, 0.05, 0.06,
  0.07];

// ---------------- tick arrays ----------------
const T_a_x = [0, 0.5, 1, 1.5, 2, 2.5, 3, 3.5, 4];
const T_a_y = [-60, -50, -40, -30, -20];
const T_ab_x = [0.5, 1, 1.5, 2, 2.5, 3, 3.5, 4];
const T_ab_y = [-6, -4, -2, 0];
const T_b_x = [0, 1, 2, 3, 4, 5, 6, 7, 8];
const T_b_y = [-60, -50, -40, -30, -20];
const T_bb_x = [4, 4.5, 5, 5.5, 6, 6.5, 7];
const T_bb_y = [-0.4, -0.2, 0, 0.2];
const T_c_x = [0, 0.5, 1, 1.5, 2, 2.5, 3, 3.5, 4, 4.5, 5];
const T_c_y = [-5, 0, 5];
const T_cb_x = [0.5, 1, 1.5, 2, 2.5, 3, 3.5, 4, 4.5, 5];
const T_cb_y = [-4, -2, 0, 2, 4];
const T_d_x = [0, 1, 2, 3, 4, 5, 6, 7, 8, 9];
const T_d_y = [-5, 0, 5];
const T_db_x = [5, 5.5, 6, 6.5, 7, 7.5, 8, 8.5, 9];
const T_db_y = [0, 1, 2, 3];
const T_e_x = [0, 5, 10];
const T_e1_y = [1, 1.5, 2, 2.5, 3];
const T_e2_y = [0.5, 1, 1.5, 2];
const T_eE_x = [4, 6, 8, 10];
const T_eE1_y = [0, 0.5, 1];
const T_eE2_y = [-0.2, 0, 0.2, 0.4, 0.6];
const T_f1_x = [0, 5, 10, 15];
const T_f1_y = [1.4, 1.6, 1.8, 2, 2.2, 2.4];
const T_f2_x = [0, 5, 10, 15, 20];
const T_f2_y = [0.6, 0.8, 1, 1.2, 1.4, 1.6];
const T_fE_x = [10, 12, 14, 16, 18];
const T_fE1_y = [-0.4, -0.2, 0, 0.2, 0.4, 0.6];
const T_fE2_y = [-0.4, -0.3, -0.2, -0.1, 0, 0.1];

// ---------------- dataset builders ----------------
const LN = (data: Pt[], color: string, w = 1, r = 0, tension = 0) => ({
  type: "line", data, borderColor: color, backgroundColor: color, borderWidth: w, pointRadius: r,
  pointBackgroundColor: color, pointBorderWidth: 0, pointHoverRadius: 0, tension, fill: false, showLine: true,
});
const SB = (data: Pt[], color: string, bw: number) => ({
  type: "bar", data: data.map((p) => ({ x: p.x, y: [0, p.y] })), backgroundColor: color, borderWidth: 0,
  grouped: false, maxBarThickness: bw, barPercentage: 1, categoryPercentage: 1,
});
const SM = (data: Pt[], color: string, r: number) => ({
  type: "line", data, showLine: false, borderColor: color, backgroundColor: "rgba(0,0,0,0)", pointRadius: r,
  pointBorderColor: color, pointBackgroundColor: "rgba(0,0,0,0)", pointBorderWidth: 1, pointHoverRadius: 0,
});
// stem series: stems + (optional dense marker band) + open circles
const stems = (lstm: Pt[], kal: Pt[], r: number, band = 0, bw = 1) => {
  const out: any[] = [SB(lstm, PUR_S, bw)];
  if (band) out.push(LN(lstm, PUR_B, band, 0, 0.3));
  out.push(SM(lstm, PUR_M, r), SB(kal, GRN_S, bw));
  if (band) out.push(LN(kal, GRN_B, band, 0, 0.3));
  out.push(SM(kal, GRN, r));
  return out;
};

type Box = [number, number, number, number];
interface Spec {
  box: Box; x: [number, number]; y: [number, number]; xt: number[]; yt: number[]; ds: any[];
  rects?: any[]; base?: boolean; title: string; yl: string; ylx: number;
}

const SPECS: Spec[] = [
  { box: [48, 104, 473, 242], x: [0, 4], y: [-60, -20], xt: T_a_x, yt: T_a_y, title: "Position", yl: "Position [m]", ylx: 18,
    ds: [LN(seq(0.7, 0.05, aT_meas), BLUE, 1, 1.3), LN(seq(0, 0.1, aT_ideal), RED, 1.5, 1.2), LN(seq(0, 0.05, aT_act), YEL, 1, 1.3),
      LN(seq(0.7, 0.1, aT_lstm), PUR, 1.5, 1.2), LN([...seq(0, 0.05, aT_kal1), ...seq(0.75, 0.1, aT_kal2)], GRN, 1, 1.4)] },
  { box: [49, 297, 471, 434], x: [0.5, 4], y: [-7.65, 0.25], xt: T_ab_x, yt: T_ab_y, title: "Position", yl: "Error [m]", ylx: 23, base: true,
    ds: stems(seq(0.75, 0.05, aB_lstm), seq(0.75, 0.05, aB_kal), 3.3) },
  { box: [743, 102, 1174, 241], x: [0, 8], y: [-65, -20], xt: T_b_x, yt: T_b_y, title: "Position", yl: "Position [m]", ylx: 714, rects: bRects,
    ds: [LN(seq(4, 0.05, bT_obs), BLUE, 1, 1.2), LN(seq(0, 0.2, bT_ideal), RED, 1.5, 1.2), LN(seq(0, 0.05, bT_act1), YEL, 1, 1.3),
      LN(seq(3.25, 0.05, bT_act2), YEL, 1, 1.3), LN(seq(0, 0.2, bT_lstm), PUR, 2, 1.2),
      LN([...seq(0, 0.05, bT_kal1), ...seq(0.8, 0.2, bT_kal2)], GRN, 2, 1.2)] },
  { box: [753, 302, 1174, 436], x: [3.93, 7.36], y: [-0.41, 0.35], xt: T_bb_x, yt: T_bb_y, title: "Position", yl: "Error [m]", ylx: 712, base: true,
    ds: stems(seq(4, 0.05, bB_lstm), seq(4, 0.05, bB_kal), 3.3) },
  { box: [46, 601, 478, 742], x: [0, 5], y: [-5.7, 6.3], xt: T_c_x, yt: T_c_y, title: "Position", yl: "Position [m]", ylx: 23,
    ds: [LN(seq(0.9, 0.05, cT_meas), BLUE, 1, 1.3), LN(seq(0, 0.1, cT_ideal), RED, 2, 0, 0.3), LN(seq(0, 0.025, cT_act), YEL, 1, 1.3),
      LN(seq(0.9, 0.1, cT_lstm), PUR, 2.5, 0, 0.3), LN([...seq(0, 0.05, cT_kal1), ...seq(0.2, 0.1, cT_kal2)], GRN, 2.5, 0, 0.3)] },
  { box: [46, 800, 478, 941], x: [0.5, 5], y: [-4, 4], xt: T_cb_x, yt: T_cb_y, title: "Position", yl: "Error [m]", ylx: 23, base: true,
    ds: stems(seq(0.9, 0.05, cB_lstm), seq(0.9, 0.05, cB_kal), 4, 7, 2) },
  { box: [743, 601, 1175, 742], x: [0, 9.18], y: [-5.5, 5.6], xt: T_d_x, yt: T_d_y, title: "Position", yl: "Position [m]", ylx: 720, rects: dRects,
    ds: [LN(seq(5, 0.05, dT_meas), BLUE, 1, 1.3), LN(seq(0, 0.1, dT_ideal), RED, 2, 0, 0.3), LN(seq(4.1, 0.025, dT_act), YEL, 1, 1.3),
      LN(seq(0, 0.1, dT_lstm), PUR, 2.5, 0, 0.3), LN(seq(0, 0.1, dT_kal), GRN, 2.5, 0, 0.3)] },
  { box: [743, 797, 1175, 941], x: [5, 9.08], y: [-0.24, 3.08], xt: T_db_x, yt: T_db_y, title: "Position", yl: "Error [m]", ylx: 725, base: true,
    ds: stems(seq(5, 0.05, dB_lstm), seq(5, 0.05, dB_kal), 4, 7, 2) },
  { box: [42, 1104, 232, 1247], x: [0, 10], y: [1, 3], xt: T_e_x, yt: T_e1_y, title: "State 1", yl: "State 1 [m]", ylx: 11,
    ds: [LN(seq(2, 0.1, e1_meas), BLUE, 1, 1.3), LN(seq(2, 0.25, e1_ideal), RED, 2, 0, 0.3), LN(seq(0, 0.05, e1_act), YEL, 1, 1.3),
      LN(seq(2, 0.25, e1_lstm), PUR, 2, 0, 0.3), LN(seq(0, 0.25, e1_ekf), GRN, 2, 0, 0.3)] },
  { box: [290, 1104, 480, 1247], x: [0, 10], y: [0.5, 2], xt: T_e_x, yt: T_e2_y, title: "State 2", yl: "State 2 [m]", ylx: 260,
    ds: [LN(seq(2, 0.1, e2_meas), BLUE, 1, 1.3), LN(seq(1.5, 0.25, e2_ideal), RED, 2, 0, 0.3), LN(seq(0, 0.05, e2_act), YEL, 1, 1.3),
      LN(seq(1.5, 0.25, e2_lstm), PUR, 2, 0, 0.3), LN(seq(0, 0.25, e2_ekf), GRN, 2, 0, 0.3)] },
  { box: [42, 1303, 232, 1447], x: [2.03, 10], y: [-0.43, 1.08], xt: T_eE_x, yt: T_eE1_y, title: "State 1", yl: "Error [m]", ylx: 11, base: true,
    ds: stems(seq(2, 0.1, eE1_lstm), seq(2, 0.1, eE1_kal), 4, 3) },
  { box: [290, 1303, 480, 1447], x: [2.16, 10], y: [-0.335, 0.685], xt: T_eE_x, yt: T_eE2_y, title: "State 2", yl: "Error [m]", ylx: 257, base: true,
    ds: stems(seq(2.2, 0.1, eE2_lstm), seq(2.2, 0.1, eE2_kal), 4, 3) },
  { box: [740, 1103, 930, 1247], x: [0, 19.7], y: [1.4, 2.49], xt: T_f1_x, yt: T_f1_y, title: "Position", yl: "State 1 [m]", ylx: 710,
    ds: [LN(seq(10, 0.1, f1_meas), BLUE, 1, 1.3), LN(seq(0, 0.5, f1_ideal), RED, 2, 0, 0.35), LN(seq(8.5, 0.1, f1_act), YEL, 1, 1.3),
      LN(seq(0, 0.5, f1_lstm1), PUR, 2, 0, 0.35), LN(seq(10, 0.5, f1_lstm2), PUR, 2, 0, 0.35),
      LN(seq(0, 0.2, f1_kal1), GRN, 1.2, 1.5), LN(seq(10, 0.5, f1_kal2), GRN, 2, 0, 0.35)] },
  { box: [982, 1103, 1176, 1247], x: [0, 20], y: [0.6, 1.6], xt: T_f2_x, yt: T_f2_y, title: "Position", yl: "State 2 [m]", ylx: 958,
    ds: [LN(seq(10, 0.1, f2_meas), BLUE, 1, 1.3), LN(seq(0, 0.5, f2_ideal), RED, 2, 0, 0.35), LN(seq(8.5, 0.1, f2_act), YEL, 1, 1.3),
      LN(seq(0, 0.5, f2_lstm), PUR, 2, 0, 0.35),
      LN(seq(0, 0.2, f2_kal1), GRN, 1.2, 1.5), LN(seq(10, 0.5, f2_kal2), GRN, 2, 0, 0.35)] },
  { box: [741, 1303, 931, 1447], x: [10, 18], y: [-0.4, 0.61], xt: T_fE_x, yt: T_fE1_y, title: "State 1", yl: "Error [m]", ylx: 705, base: true,
    ds: stems(seq(10, 0.1, fE1_lstm), seq(10, 0.1, fE1_kal), 4, 3) },
  { box: [988, 1303, 1177, 1448], x: [10, 18], y: [-0.455, 0.11], xt: T_fE_x, yt: T_fE2_y, title: "State 2", yl: "Error [m]", ylx: 957, base: true,
    ds: stems(seq(10, 0.1, fE2_lstm), seq(10, 0.1, fE2_kal), 4, 3) },
];

// ---------------- legends ----------------
interface LegItem { label: string; color: string; lw?: number }
interface LegSpec { box: Box; items: LegItem[]; fs: number; sx: number; sw: number; tx: number; stem?: boolean; center?: boolean }
const five = (a: string, e: string): LegItem[] => [
  { label: a, color: BLUE, lw: 1 }, { label: "Ideal", color: RED, lw: 1.5 }, { label: "Activation", color: YEL, lw: 1.5 },
  { label: "LSTM", color: PUR, lw: 1.5 }, { label: e, color: GRN, lw: 1.5 },
];
const two = (a: string, b: string): LegItem[] => [{ label: a, color: PUR_M }, { label: b, color: GRN }];
const LEGENDS: LegSpec[] = [
  { box: [60, 157, 157, 233], items: five("Measures", "Kalman"), fs: 10.5, sx: 3, sw: 37, tx: 45 },
  { box: [88, 392, 252, 428], items: two("RMSE LSTM = 0.20541", "RMSE Kalman = 4.2534"), fs: 10.5, sx: 6, sw: 28, tx: 40, stem: true, center: true },
  { box: [755, 156, 852, 232], items: five("Observed", "Kalman"), fs: 10.5, sx: 3, sw: 37, tx: 45 },
  { box: [748, 403, 909, 435], items: two("LSTM RMSE= 0.24142", "Kalman RMSE= 0.2084"), fs: 10.5, sx: 2, sw: 28, tx: 37, stem: true },
  { box: [105, 602, 203, 679], items: five("Measures", "Kalman"), fs: 10.5, sx: 3, sw: 39, tx: 46 },
  { box: [50, 801, 228, 833], items: two("RMSE LSTM = 1.7455", "RMSE Kalman = 0.090334"), fs: 10.5, sx: 3, sw: 29, tx: 40, stem: true, center: true },
  { box: [747, 607, 844, 682], items: five("Measures", "Kalman"), fs: 10.5, sx: 1, sw: 42, tx: 45 },
  { box: [743, 797, 917, 832], items: two("LSTM RMSE= 1.0898", "Kalman RMSE= 0.032316"), fs: 10.5, sx: 3, sw: 27, tx: 44, stem: true },
  { box: [223, 1228, 322, 1305], items: five("Measures", "EKF"), fs: 11, sx: 2, sw: 42, tx: 46 },
  { box: [42, 1303, 218, 1337], items: two("RMSE LSTM = 0.11881", "RMSE Kalman = 0.28547"), fs: 11, sx: 5, sw: 27, tx: 40, stem: true, center: true },
  { box: [290, 1303, 467, 1337], items: two("RMSE LSTM = 0.081719", "RMSE Kalman = 0.2034"), fs: 11, sx: 5, sw: 27, tx: 40, stem: true, center: true },
  { box: [896, 1220, 994, 1297], items: five("Measures", "Kalman"), fs: 11, sx: 4, sw: 40, tx: 46 },
  { box: [742, 1410, 908, 1445], items: two("LSTM RMSE= 0.069078", "Kalman RMSE= 0.28555"), fs: 11, sx: 3, sw: 28, tx: 44, stem: true },
  { box: [1000, 1408, 1168, 1442], items: two("LSTM RMSE= 0.054068", "Kalman RMSE= 0.18935"), fs: 11, sx: 3, sw: 28, tx: 46, stem: true },
];

const fmt = (v: any) => String(Math.round(Number(v) * 1000) / 1000);
const ML = 46, MR = 14, MT = 6, MB = 24;

function Plot({ s }: { s: Spec }) {
  const ref = useRef<HTMLCanvasElement>(null);
  const [l, t, r, b] = s.box;
  const W = r - l + ML + MR, H = b - t + MT + MB;
  useEffect(() => {
    const deco = {
      id: "deco",
      afterDatasetsDraw(ch: any) {
        const { ctx, chartArea: a, scales } = ch;
        const xs = scales.x, ys = scales.y;
        ctx.save();
        ctx.beginPath();
        ctx.rect(a.left, a.top, a.right - a.left, a.bottom - a.top);
        ctx.clip();
        if (s.base) {
          const py = Math.round(ys.getPixelForValue(0)) + 0.5;
          ctx.strokeStyle = "#3a3a3a";
          ctx.lineWidth = 1.2;
          ctx.beginPath(); ctx.moveTo(a.left, py); ctx.lineTo(a.right, py); ctx.stroke();
        }
        (s.rects || []).forEach((rc: any) => {
          const x0 = xs.getPixelForValue(rc.x0), x1 = xs.getPixelForValue(rc.x1);
          const y0 = ys.getPixelForValue(rc.y0), y1 = ys.getPixelForValue(rc.y1);
          ctx.strokeStyle = rc.c; ctx.lineWidth = 1.2;
          ctx.strokeRect(x0, y1, x1 - x0, y0 - y1);
        });
        ctx.restore();
      },
      afterDraw(ch: any) {
        const { ctx, chartArea: a, scales } = ch;
        ctx.save();
        ctx.strokeStyle = "#262626";
        ctx.lineWidth = 1;
        const L0 = Math.round(a.left) + 0.5, R0 = Math.round(a.right) - 0.5, T0 = Math.round(a.top) + 0.5, B0 = Math.round(a.bottom) - 0.5;
        ctx.strokeRect(L0, T0, R0 - L0, B0 - T0);
        ctx.beginPath();
        s.xt.forEach((v) => { const px = Math.round(scales.x.getPixelForValue(v)) + 0.5; ctx.moveTo(px, B0); ctx.lineTo(px, B0 - 3); ctx.moveTo(px, T0); ctx.lineTo(px, T0 + 3); });
        s.yt.forEach((v) => { const py = Math.round(scales.y.getPixelForValue(v)) + 0.5; ctx.moveTo(L0, py); ctx.lineTo(L0 + 3, py); ctx.moveTo(R0, py); ctx.lineTo(R0 - 3, py); });
        ctx.stroke();
        ctx.restore();
      },
    };
    const tickFont = { family: FONT, size: 12 };
    const chart = new Chart(ref.current as HTMLCanvasElement, {
      type: "line",
      data: { datasets: s.ds.map((d, i) => ({ ...d, order: 100 - i })) },
      options: {
        animation: false, responsive: false, events: [],
        layout: { padding: { top: MT, right: MR, left: 0, bottom: 0 }, autoPadding: false },
        plugins: { legend: { display: false }, tooltip: { enabled: false }, title: { display: false } },
        scales: {
          x: {
            type: "linear", min: s.x[0], max: s.x[1], offset: false,
            afterBuildTicks: (sc: any) => { sc.ticks = s.xt.map((v) => ({ value: v })); },
            afterFit: (sc: any) => { sc.height = MB; sc.paddingLeft = 0; sc.paddingRight = 0; },
            ticks: { autoSkip: false, maxRotation: 0, minRotation: 0, padding: 6, font: tickFont, color: "#262626", callback: fmt },
            grid: { color: GRID, drawTicks: false, lineWidth: 1 }, border: { display: false },
          },
          y: {
            type: "linear", min: s.y[0], max: s.y[1],
            afterBuildTicks: (sc: any) => { sc.ticks = s.yt.map((v) => ({ value: v })); },
            afterFit: (sc: any) => { sc.width = ML; sc.paddingTop = 0; sc.paddingBottom = 0; },
            ticks: { autoSkip: false, padding: 4, font: tickFont, color: "#262626", callback: fmt },
            grid: { color: GRID, drawTicks: false, lineWidth: 1 }, border: { display: false },
          },
        },
      } as any,
      plugins: [deco as any],
    } as any);
    return () => chart.destroy();
  }, []);
  return <canvas ref={ref} width={W} height={H} style={{ position: "absolute", left: l - ML, top: t - MT, width: W, height: H }} />;
}

function Legend({ g }: { g: LegSpec }) {
  const [l, t, r, b] = g.box;
  const h = g.fs + 3;
  return (
    <div style={{ position: "absolute", left: l, top: t, width: r - l, height: b - t, boxSizing: "border-box", border: "1px solid #2a2a2a",
      background: "#fff", zIndex: 10, display: "flex", flexDirection: "column", justifyContent: "space-evenly", fontFamily: FONT, fontSize: g.fs, color: "#111" }}>
      {g.items.map((it, i) => (
        <div key={i} style={{ position: "relative", height: h }}>
          <svg width={g.sw + 7} height={h} style={{ position: "absolute", left: g.sx, top: 0 }}>
            {g.stem ? (
              <>
                <line x1={0} y1={h / 2} x2={g.sw} y2={h / 2} stroke={it.color} strokeWidth={1} />
                <circle cx={g.sw} cy={h / 2} r={4} stroke={it.color} fill="none" strokeWidth={1} />
              </>
            ) : (
              <>
                <line x1={0} y1={h / 2} x2={g.sw} y2={h / 2} stroke={it.color} strokeWidth={it.lw || 1.5} strokeOpacity={0.75} />
                <circle cx={g.sw / 2} cy={h / 2} r={1.4} fill={it.color} />
              </>
            )}
          </svg>
          <span style={{ position: "absolute", left: g.tx, right: g.center ? 4 : undefined, textAlign: g.center ? "center" : "left",
            top: 0, lineHeight: `${h}px`, whiteSpace: "nowrap" }}>{it.label}</span>
        </div>
      ))}
    </div>
  );
}

function Txt({ x, y, s, fs, bold, rot, fam }: { x: number; y: number; s: React.ReactNode; fs: number; bold?: boolean; rot?: boolean; fam?: string }) {
  return (
    <div style={{ position: "absolute", left: x, top: y, transform: `translate(-50%,-50%)${rot ? " rotate(-90deg)" : ""}`, whiteSpace: "nowrap",
      fontFamily: fam || FONT, fontSize: fs, fontWeight: bold ? 700 : 400, color: fam ? "#000" : "#262626", lineHeight: 1 }}>{s}</div>
  );
}

const PANELS: [number, number, string][] = [[251, 490, "a"], [948, 490, "b"], [251, 1022, "c"], [948, 1022, "d"], [251, 1530, "e"], [948, 1530, "f"]];

export default function App() {
  useEffect(() => { document.body.style.margin = "0"; }, []);
  return (
    <div style={{ position: "relative", width: 1192, height: 1551, background: "#fff", overflow: "hidden" }}>
      <Txt x={251} y={22} s="First time window" fs={28} bold fam={SERIF} />
      <Txt x={949} y={22} s="Second time window" fs={28} bold fam={SERIF} />
      {PANELS.map(([x, y, c]) => (
        <Txt key={c} x={x} y={y} fs={22} fam={SERIF} s={<span>(<b>{c}</b>)</span>} />
      ))}
      {SPECS.map((s, i) => {
        const [l, t, r, b] = s.box;
        return (
          <React.Fragment key={i}>
            <Plot s={s} />
            <Txt x={(l + r) / 2} y={t - 9.5} s={s.title} fs={12} bold />
            <Txt x={(l + r) / 2} y={b + 29} s="Time [s]" fs={12.5} />
            <Txt x={s.ylx} y={(t + b) / 2} s={s.yl} fs={12.5} rot />
          </React.Fragment>
        );
      })}
      {LEGENDS.map((g, i) => <Legend key={i} g={g} />)}
    </div>
  );
}
